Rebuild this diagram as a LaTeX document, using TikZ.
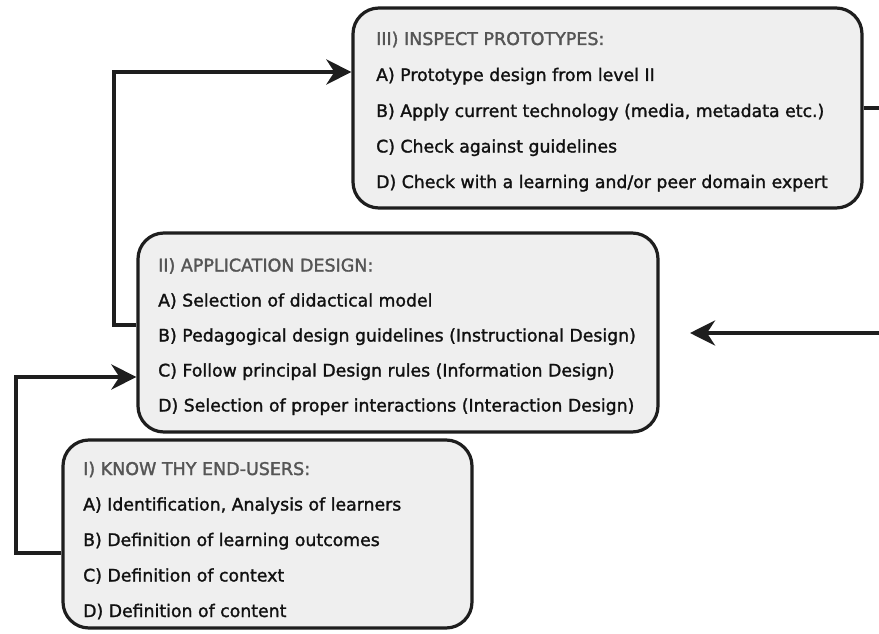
\documentclass[tikz,border=0pt]{standalone}
\usepackage{fontspec}
\setmainfont{DejaVu Sans}
\newfontfamily\bodyfont{DejaVu Sans}[FakeBold=1.5]
\newfontfamily\headfont{DejaVu Sans}[FakeBold=1.7]
\usetikzlibrary{arrows.meta}
\definecolor{boxfill}{HTML}{EFEFEF}
\definecolor{boxline}{HTML}{1E1E1E}
\definecolor{headgray}{HTML}{555555}
\definecolor{bodyink}{HTML}{111111}
\tikzset{
  stagebox/.style={draw=boxline, line width=3.2pt, fill=boxfill, rounded corners=26pt, inner sep=0pt},
  headtext/.style={anchor=base west, inner sep=0pt, text=headgray, font=\headfont\fontsize{17.5}{20}\selectfont},
  itemtext/.style={anchor=base west, inner sep=0pt, text=bodyink, font=\bodyfont\fontsize{17.3}{20}\selectfont},
  conn/.style={draw=boxline, line width=4.5pt},
  connarrow/.style={conn, -{Stealth[length=25pt, width=25pt, inset=8pt]}}
}
\begin{document}
\begin{tikzpicture}[x=1pt, y=-1pt]
\useasboundingbox (0,0) rectangle (879,634);
\clip (0,0) rectangle (879,634);
\fill[white] (0,0) rectangle (879,634);

% boxes
\node[stagebox, minimum width=509pt, minimum height=200pt] (b3) at (607.5,108) {};
\node[stagebox, minimum width=520pt, minimum height=199pt] (b2) at (398,332.5) {};
\node[stagebox, minimum width=409pt, minimum height=188pt] (b1) at (267.5,534) {};

% box III text
\node[headtext] (t3h) at (376,45) {III) INSPECT PROTOTYPES:};
\node[itemtext] (t3a) at (376,81) {A) Prototype design from level II};
\node[itemtext] (t3b) at (376,117) {B) Apply current technology (media, metadata etc.)};
\node[itemtext] (t3c) at (376,152.5) {C) Check against guidelines};
\node[itemtext] (t3d) at (376,188) {D) Check with a learning and/or peer domain expert};

% box II text
\node[headtext] (t2h) at (158,271.5) {II) APPLICATION DESIGN:};
\node[itemtext] (t2a) at (158,306.5) {A) Selection of didactical model};
\node[itemtext] (t2b) at (158,341.5) {B) Pedagogical design guidelines (Instructional Design)};
\node[itemtext] (t2c) at (158,376.5) {C) Follow principal Design rules (Information Design)};
\node[itemtext] (t2d) at (158,411.5) {D) Selection of proper interactions (Interaction Design)};

% box I text
\node[headtext] (t1h) at (83,475) {I) KNOW THY END-USERS:};
\node[itemtext] (t1a) at (83,510.5) {A) Identification, Analysis of learners};
\node[itemtext] (t1b) at (83,546) {B) Definition of learning outcomes};
\node[itemtext] (t1c) at (83,581.5) {C) Definition of context};
\node[itemtext] (t1d) at (83,617) {D) Definition of content};

% connectors
\coordinate (r3) at (890,108);
\coordinate (tip2r) at (690,333);
\draw[connarrow] (b1.west |- 0,553) -- (16,553) |- (b2.west |- 0,377);
\draw[connarrow] (b2.west |- 0,325) -- (114,325) |- (b3.west |- 0,72);
\draw[connarrow] (b3.east |- r3) -- (r3) |- (tip2r);
\end{tikzpicture}
\end{document}
